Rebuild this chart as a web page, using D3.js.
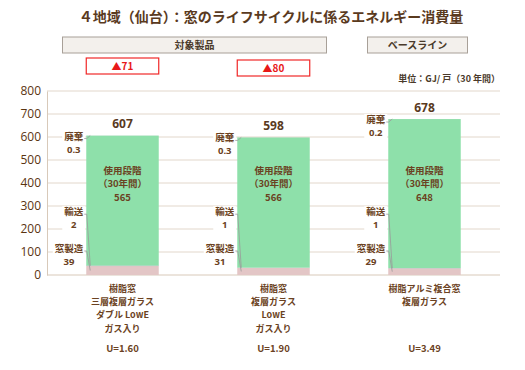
<!DOCTYPE html>
<html>
<head>
<meta charset="utf-8">
<script src="https://cdn.jsdelivr.net/npm/d3@7"></script>
<style>
	body { margin: 0; background: #fff; }
	svg text { font-family: "Noto Sans CJK JP", "Noto Sans", sans-serif; }
</style>
</head>
<body>
<div id="chart"></div>
<script>

var title = "４地域（仙台）：窓のライフサイクルに係るエネルギー消費量"
var unitLabel = "単位：GJ/ 戸（30 年間）"

var categories = [
	["樹脂窓", "三層複層ガラス", "ダブル LowE", "ガス入り"],
	["樹脂窓", "複層ガラス", "LowE", "ガス入り"],
	["樹脂アルミ複合窓", "複層ガラス"]
]
var uValues = ["U=1.60", "U=1.90", "U=3.49"]

// stack order bottom -> top
var manufacture = [39, 31, 29]
var transport = [2, 1, 1]
var useStage = [565, 566, 648]
var disposal = [0.3, 0.3, 0.2]
var totals = [607, 598, 678]
var reductions = ["▲71", "▲80", null]

var groupLabels = ["対象製品", "ベースライン"]
var yTicks = [0, 100, 200, 300, 400, 500, 600, 700, 800]

var width = 525, height = 370
var margin = {top: 91, right: 25, bottom: 95, left: 47}
var w = width - margin.left - margin.right
var h = height - margin.top - margin.bottom

var brown = "#6b4222"

var svg = d3.select("#chart").append("svg")
	.attr("width", width)
	.attr("height", height)

var x = d3.scaleBand()
	.domain(d3.range(categories.length))
	.range([margin.left, margin.left + w])
	.paddingInner(0.52)
	.paddingOuter(0.26)

var y = d3.scaleLinear()
	.domain([0, 800])
	.range([margin.top + h, margin.top])

// title
svg.append("text")
	.attr("x", 271)
	.attr("y", 22)
	.attr("text-anchor", "middle")
	.attr("font-size", 14)
	.attr("font-weight", "bold")
	.attr("fill", "#5a3a1e")
	.text(title)

// group header boxes
var c0 = x(0) + x.bandwidth() / 2, c1 = x(1) + x.bandwidth() / 2, c2 = x(2) + x.bandwidth() / 2
var headerBoxes = [
	{x0: c0 - 60, x1: c1 + 53, text: groupLabels[0]},
	{x0: c2 - 57, x1: c2 + 43, text: groupLabels[1]}
]
headerBoxes.forEach(function(b) {
	svg.append("rect")
		.attr("x", b.x0).attr("y", 37)
		.attr("width", b.x1 - b.x0).attr("height", 16)
		.attr("fill", "#f3f0ec")
		.attr("stroke", "#a8a098")
		.attr("stroke-width", 1)
	svg.append("text")
		.attr("x", (b.x0 + b.x1) / 2).attr("y", 49)
		.attr("text-anchor", "middle")
		.attr("font-size", 10)
		.attr("font-weight", "bold")
		.attr("fill", "#4a3a2a")
		.text(b.text)
})

// reduction boxes
reductions.forEach(function(r, i) {
	if (!r) return
	var top = 58 + i * 2
	svg.append("rect")
		.attr("x", x(i)).attr("y", top)
		.attr("width", x.bandwidth()).attr("height", 16)
		.attr("fill", "#fff")
		.attr("stroke", "#f02828")
		.attr("stroke-width", 1.2)
	svg.append("text")
		.attr("x", x(i) + x.bandwidth() / 2).attr("y", top + 12)
		.attr("text-anchor", "middle")
		.attr("font-size", 10)
		.attr("font-weight", "bold")
		.attr("fill", "#e81818")
		.text(r)
})

svg.append("text")
	.attr("x", margin.left + w)
	.attr("y", 82)
	.attr("text-anchor", "end")
	.attr("font-size", 9)
	.attr("font-weight", "bold")
	.attr("fill", "#4a3a2a")
	.text(unitLabel)

// gridlines
svg.append("g")
	.selectAll("line")
	.data(yTicks.slice(1))
	.enter().append("line")
	.attr("x1", margin.left).attr("x2", margin.left + w)
	.attr("y1", function(d) { return y(d) }).attr("y2", function(d) { return y(d) })
	.attr("stroke", "#e2d7cb")
	.attr("stroke-width", 1)

// y axis
var yAxis = d3.axisLeft(y).tickValues(yTicks).tickSize(0).tickPadding(6)
var yg = svg.append("g")
	.attr("transform", "translate(" + margin.left + ",0)")
	.call(yAxis)
yg.select(".domain").attr("stroke", "#d8c9b9")
yg.selectAll("text")
	.attr("font-size", 12)
	.attr("fill", "#5a3410")
	.style("font-family", "'Open Sans', sans-serif")

svg.append("line")
	.attr("x1", margin.left).attr("x2", margin.left + w)
	.attr("y1", y(0)).attr("y2", y(0))
	.attr("stroke", "#d8c9b9")

// stacked bars
var segColors = ["#e3c6c6", "#8d9aa8", "#8ee0aa", "#a9a9a9"]
categories.forEach(function(c, i) {
	var vals = [manufacture[i], transport[i], useStage[i], disposal[i]]
	var base = 0
	vals.forEach(function(v, k) {
		svg.append("rect")
			.attr("x", x(i))
			.attr("width", x.bandwidth())
			.attr("y", y(base + v))
			.attr("height", y(base) - y(base + v))
			.attr("fill", segColors[k])
		base += v
	})
	var top = base

	// total
	svg.append("text")
		.attr("x", x(i) + x.bandwidth() / 2)
		.attr("y", y(totals[i]) - 7)
		.attr("text-anchor", "middle")
		.attr("font-size", 12)
		.attr("font-weight", "bold")
		.attr("fill", "#5a3a1e")
		.style("font-family", "'Open Sans', sans-serif")
		.text(totals[i])

	// use stage label in bar
	var cx = x(i) + x.bandwidth() / 2
	var inner = ["使用段階", "（30年間）", useStage[i]]
	inner.forEach(function(t, j) {
		svg.append("text")
			.attr("x", cx)
			.attr("y", y(440) + j * 13.5)
			.attr("text-anchor", "middle")
			.attr("font-size", 9.5)
			.attr("font-weight", "bold")
			.attr("fill", brown)
			.text(t)
	})

	// side annotations
	var bx = x(i)
	var notes = [
		{name: "廃棄", value: disposal[i], at: y(top) + 4, target: y(top)},
		{name: "輸送", value: transport[i], at: y(260), target: y(manufacture[i] + transport[i] / 2)},
		{name: "窓製造", value: manufacture[i], at: y(100), target: y(manufacture[i] / 2)}
	]
	notes.forEach(function(n) {
		var labelRight = bx - 3
		var tw = n.name.length * 9.5
		var lcx = labelRight - tw / 2
		svg.append("rect")
			.attr("x", labelRight - tw - 2).attr("y", n.at - 9)
			.attr("width", tw + 4).attr("height", 24)
			.attr("fill", "#fff")
		svg.append("path")
			.attr("d", "M" + (labelRight + 1) + "," + (n.at - 1) + "H" + (bx + 0.5) + "L" + (bx + 4) + "," + n.target)
			.attr("fill", "none")
			.attr("stroke", "#9a9a9a")
			.attr("stroke-width", 0.8)
		svg.append("text")
			.attr("x", lcx).attr("y", n.at)
			.attr("text-anchor", "middle")
			.attr("font-size", 9.5)
			.attr("font-weight", "bold")
			.attr("fill", brown)
			.text(n.name)
		svg.append("text")
			.attr("x", lcx).attr("y", n.at + 13)
			.attr("text-anchor", "middle")
			.attr("font-size", 9.5)
			.attr("font-weight", "bold")
			.attr("fill", brown)
			.style("font-family", "'Open Sans', sans-serif")
			.text(n.value)
	})

	// category labels
	c.forEach(function(line, j) {
		svg.append("text")
			.attr("x", cx)
			.attr("y", y(0) + 17 + j * 13.2)
			.attr("text-anchor", "middle")
			.attr("font-size", 9)
			.attr("font-weight", "bold")
			.attr("fill", brown)
			.text(line)
	})
	svg.append("text")
		.attr("x", cx)
		.attr("y", 352)
		.attr("text-anchor", "middle")
		.attr("font-size", 9.5)
		.attr("font-weight", "bold")
		.attr("fill", brown)
		.text(uValues[i])
})

</script>
</body>
</html>
